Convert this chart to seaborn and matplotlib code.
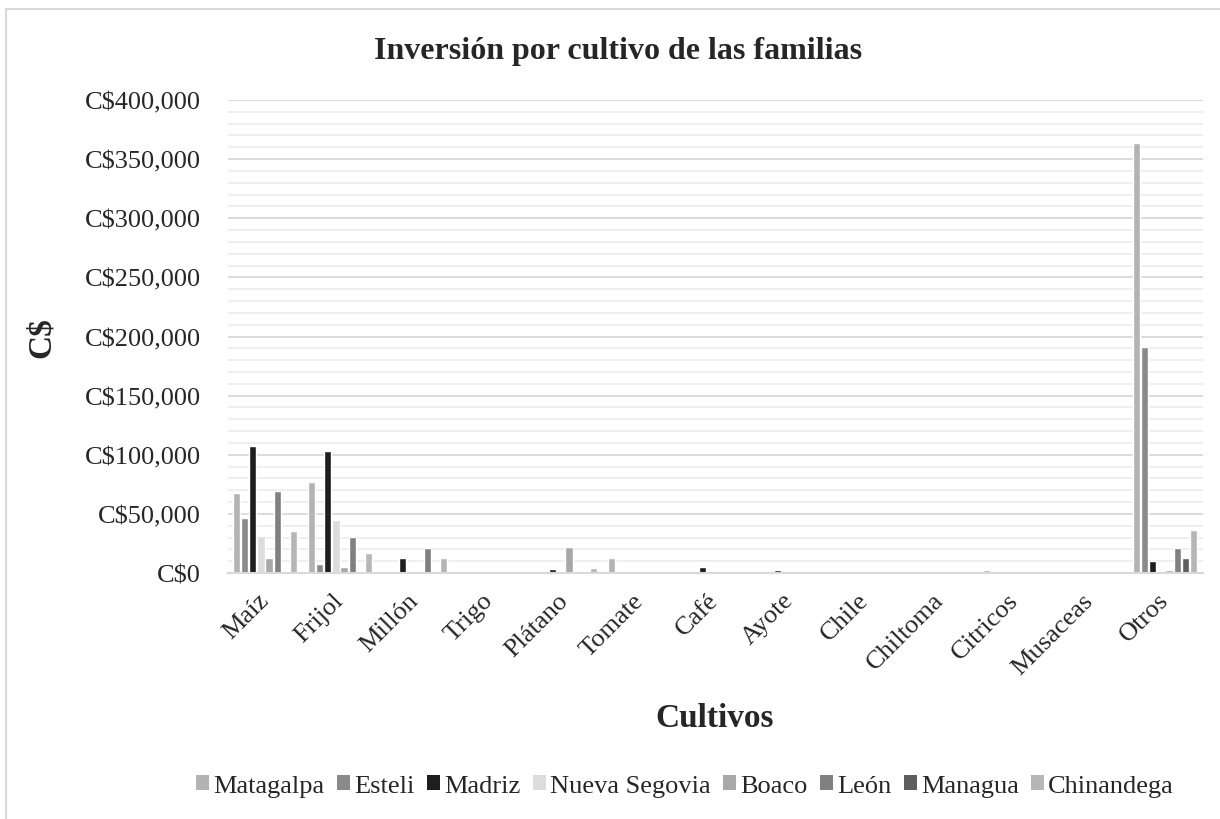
import matplotlib
matplotlib.use("Agg")
import matplotlib.pyplot as plt
from matplotlib.ticker import FuncFormatter, MultipleLocator
from matplotlib.lines import Line2D
from matplotlib.patches import Patch
import pandas as pd
import seaborn as sns

# datos (C$)
cultivos = ["Maíz", "Frijol", "Millón", "Trigo", "Plátano", "Tomate", "Café",
            "Ayote", "Chile", "Chiltoma", "Citricos", "Musaceas", "Otros"]
departamentos = ["Matagalpa", "Esteli", "Madriz", "Nueva Segovia",
                 "Boaco", "León", "Managua", "Chinandega"]

matagalpa = [67400, 77200, 0, 0, 0, 12400, 0, 0, 0, 0, 2500, 0, 363600]
esteli = [46500, 7300, 0, 0, 0, 0, 0, 0, 0, 0, 0, 0, 190900]
madriz = [107400, 103200, 12400, 1800, 3100, 0, 4800, 2300, 300, 0, 0, 0, 10400]
nueva_segovia = [31300, 44800, 0, 0, 0, 0, 0, 0, 0, 0, 0, 0, 0]
boaco = [12400, 5400, 0, 1500, 21700, 0, 0, 0, 0, 0, 0, 0, 2500]
leon = [69300, 30400, 21100, 0, 0, 0, 0, 800, 0, 0, 0, 0, 21100]
managua = [0, 0, 0, 0, 0, 0, 0, 0, 0, 700, 0, 0, 12700]
chinandega = [35800, 16600, 12400, 0, 4000, 0, 0, 0, 0, 0, 0, 0, 36100]

colores = ["#b3b3b3", "#8a8a8a", "#1e1e1e", "#dcdcdc",
           "#a8a8a8", "#808080", "#5e5e5e", "#b6b6b6"]

series = [matagalpa, esteli, madriz, nueva_segovia, boaco, leon, managua, chinandega]
filas = []
for dep, vals in zip(departamentos, series):
    for c, v in zip(cultivos, vals):
        filas.append({"Cultivo": c, "Departamento": dep, "Valor": v})
df = pd.DataFrame(filas)

sns.set_style("white")
plt.rcParams["font.family"] = ["Liberation Serif", "DejaVu Serif"]

fig = plt.figure(figsize=(12.2, 8.2), dpi=100)
ax = fig.add_axes([227.5 / 1220, 1 - 574 / 820, 975 / 1220, 473 / 820])

sns.barplot(data=df, x="Cultivo", y="Valor", hue="Departamento",
            order=cultivos, hue_order=departamentos, palette=colores,
            width=0.86, gap=0.12, saturation=1, errorbar=None, ax=ax,
            legend=False)

ax.set_ylim(0, 400000)
ax.set_xlim(-0.5, len(cultivos) - 0.5)
ax.yaxis.set_major_locator(MultipleLocator(50000))
ax.yaxis.set_minor_locator(MultipleLocator(10000))
ax.yaxis.set_major_formatter(FuncFormatter(lambda v, p: "C${:,.0f}".format(v)))
ax.grid(which="minor", axis="y", color="#eeeeee", linewidth=1.3)
ax.grid(which="major", axis="y", color="#d9d9d9", linewidth=1.3)
ax.set_axisbelow(True)
for s in ["top", "right", "left"]:
    ax.spines[s].set_visible(False)
ax.spines["bottom"].set_color("#d9d9d9")
ax.spines["bottom"].set_linewidth(1.5)
ax.tick_params(axis="both", which="both", length=0)
ax.tick_params(axis="y", labelsize=19, pad=19)
ax.tick_params(axis="x", labelsize=19, pad=17)
plt.setp(ax.get_xticklabels(), rotation=45, ha="right", va="center",
         rotation_mode="anchor")

ax.set_xlabel("Cultivos", fontsize=24, fontweight="bold")
ax.xaxis.set_label_coords(0.5, -0.272)
ax.set_ylabel("C$", fontsize=24, fontweight="bold")
ax.yaxis.set_label_coords(-0.175, 0.5)

fig.text(0.507, 1 - 52 / 820, "Inversión por cultivo de las familias",
         ha="center", va="center", fontsize=23, fontweight="bold")

handles = [Patch(facecolor=c, edgecolor="none") for c in colores]
fig.legend(handles, departamentos, loc="center", bbox_to_anchor=(0.5615, 1 - 787 / 820),
           ncol=8, frameon=False, fontsize=19, handlelength=0.5, handleheight=0.5,
           handletextpad=0.15, columnspacing=0.47)

# marco del grafico
fig.add_artist(Line2D([6 / 1220, 6 / 1220], [0, 1 - 10 / 820], color="#d9d9d9",
                      linewidth=1.5, transform=fig.transFigure))
fig.add_artist(Line2D([6 / 1220, 1], [1 - 10 / 820, 1 - 10 / 820], color="#d9d9d9",
                      linewidth=1.5, transform=fig.transFigure))

fig.savefig("out.png", dpi=100, facecolor="white")
